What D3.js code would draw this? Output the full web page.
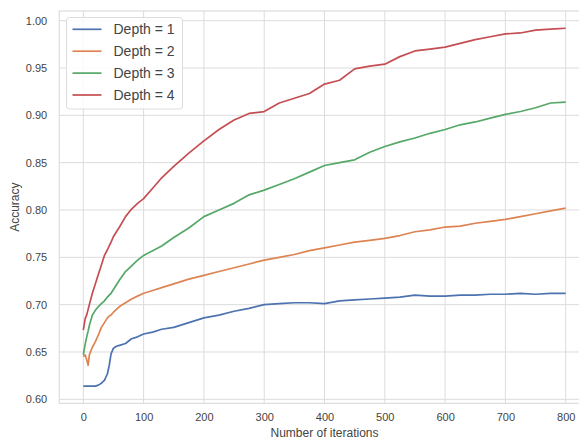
<!DOCTYPE html>
<html>
<head>
<meta charset="utf-8">
<script src="https://cdn.jsdelivr.net/npm/d3@7"></script>
<style>
  body { margin: 0; background: #fff; }
  svg { display: block; font-family: "Liberation Sans", Arial, sans-serif; }
</style>
</head>
<body>
<svg id="chart" width="579" height="439"></svg>
<script>
'use strict'

const iterations = [0, 3, 6, 8, 10, 15, 20, 25, 30, 35, 40, 43, 46, 50, 55, 60, 70, 80, 90, 100, 115, 130, 150, 175, 200, 225, 250, 275, 300, 325, 350, 375, 400, 425, 450, 475, 500, 525, 550, 575, 600, 625, 650, 675, 700, 725, 750, 775, 800]

const depth1 = [0.614, 0.614, 0.614, 0.614, 0.614, 0.614, 0.614, 0.615, 0.617, 0.620, 0.627, 0.636, 0.648, 0.654, 0.656, 0.657, 0.659, 0.664, 0.666, 0.669, 0.671, 0.674, 0.676, 0.681, 0.686, 0.689, 0.693, 0.696, 0.700, 0.701, 0.702, 0.702, 0.701, 0.704, 0.705, 0.706, 0.707, 0.708, 0.710, 0.709, 0.709, 0.710, 0.710, 0.711, 0.711, 0.712, 0.711, 0.712, 0.712]
const depth2 = [0.645, 0.647, 0.641, 0.636, 0.647, 0.655, 0.661, 0.668, 0.676, 0.681, 0.686, 0.688, 0.689, 0.692, 0.695, 0.698, 0.702, 0.706, 0.709, 0.712, 0.715, 0.718, 0.722, 0.727, 0.731, 0.735, 0.739, 0.743, 0.747, 0.750, 0.753, 0.757, 0.760, 0.763, 0.766, 0.768, 0.770, 0.773, 0.777, 0.779, 0.782, 0.783, 0.786, 0.788, 0.790, 0.793, 0.796, 0.799, 0.802]
const depth3 = [0.647, 0.658, 0.667, 0.672, 0.678, 0.689, 0.694, 0.698, 0.701, 0.704, 0.708, 0.710, 0.712, 0.716, 0.721, 0.726, 0.735, 0.741, 0.747, 0.752, 0.757, 0.762, 0.771, 0.781, 0.793, 0.800, 0.807, 0.816, 0.821, 0.827, 0.833, 0.840, 0.847, 0.850, 0.853, 0.861, 0.867, 0.872, 0.876, 0.881, 0.885, 0.890, 0.893, 0.897, 0.901, 0.904, 0.908, 0.913, 0.914]
const depth4 = [0.673, 0.685, 0.690, 0.695, 0.700, 0.712, 0.722, 0.732, 0.742, 0.752, 0.758, 0.762, 0.766, 0.772, 0.777, 0.782, 0.793, 0.801, 0.807, 0.812, 0.823, 0.834, 0.846, 0.860, 0.873, 0.885, 0.895, 0.902, 0.904, 0.913, 0.918, 0.923, 0.933, 0.937, 0.949, 0.952, 0.954, 0.962, 0.968, 0.970, 0.972, 0.976, 0.980, 0.983, 0.986, 0.987, 0.990, 0.991, 0.992]

const seriesNames = ['Depth = 1', 'Depth = 2', 'Depth = 3', 'Depth = 4']
const seriesValues = [depth1, depth2, depth3, depth4]
const seriesColors = ['#4c72b0', '#dd8452', '#55a868', '#c44e52']

const xTicks = [0, 100, 200, 300, 400, 500, 600, 700, 800]
const yTicks = [0.60, 0.65, 0.70, 0.75, 0.80, 0.85, 0.90, 0.95, 1.00]

let svg = d3.select('#chart')

let x = d3.scaleLinear().domain([-40, 840]).range([59.2, 589.8])
let y = d3.scaleLinear().domain([0.5958, 1.0102]).range([403.3, 11])

let plotLeft = x.range()[0], plotRight = x.range()[1]
let plotTop = y.range()[1], plotBottom = y.range()[0]

// grid
let grid = svg.append('g').attr('stroke', '#dcdcdc').attr('stroke-width', 1)

grid.selectAll('.vgrid').data(xTicks).enter().append('line')
    .attr('x1', d => x(d)).attr('x2', d => x(d))
    .attr('y1', plotTop).attr('y2', plotBottom)

grid.selectAll('.hgrid').data(yTicks).enter().append('line')
    .attr('x1', plotLeft).attr('x2', plotRight)
    .attr('y1', d => y(d)).attr('y2', d => y(d))

// frame
svg.append('rect')
    .attr('x', plotLeft).attr('y', plotTop)
    .attr('width', plotRight - plotLeft).attr('height', plotBottom - plotTop)
    .attr('fill', 'none').attr('stroke', '#d6d6d6').attr('stroke-width', 1)

// axes (labels only, seaborn whitegrid has no tick marks)
let xAxis = svg.append('g')
    .attr('transform', `translate(0, ${plotBottom + 4})`)
    .call(d3.axisBottom(x).tickValues(xTicks).tickSize(0).tickPadding(6))
xAxis.select('.domain').remove()
xAxis.selectAll('text').attr('font-size', '11px').attr('fill', '#444').attr('font-family', '"Liberation Sans", Arial, sans-serif')

let yAxis = svg.append('g')
    .attr('transform', `translate(${plotLeft - 4}, 0)`)
    .call(d3.axisLeft(y).tickValues(yTicks).tickFormat(d3.format('.2f')).tickSize(0).tickPadding(8))
yAxis.select('.domain').remove()
yAxis.selectAll('text').attr('font-size', '11px').attr('fill', '#444').attr('font-family', '"Liberation Sans", Arial, sans-serif')

// axis titles
svg.append('text')
    .attr('x', (83.3 + 565.7) / 2).attr('y', 437)
    .attr('text-anchor', 'middle').attr('font-size', '12px').attr('fill', '#444')
    .text('Number of iterations')

svg.append('text')
    .attr('transform', `translate(19, ${(plotTop + plotBottom) / 2}) rotate(-90)`)
    .attr('text-anchor', 'middle').attr('font-size', '12px').attr('fill', '#444')
    .text('Accuracy')

// lines
let line = d3.line().x(d => x(d[0])).y(d => y(d[1]))

svg.append('g').selectAll('path')
    .data(seriesValues)
    .enter()
    .append('path')
    .attr('d', vals => line(iterations.map((it, i) => [it, vals[i]])))
    .attr('fill', 'none')
    .attr('stroke', (d, i) => seriesColors[i])
    .attr('stroke-width', 1.7)
    .attr('stroke-linejoin', 'round')

// legend
let legend = svg.append('g').attr('transform', 'translate(66.5, 17.5)')

legend.append('rect')
    .attr('width', 116).attr('height', 91.5)
    .attr('rx', 3).attr('ry', 3)
    .attr('fill', '#fff').attr('fill-opacity', 0.85)
    .attr('stroke', '#dcdcdc').attr('stroke-width', 1)

let item = legend.selectAll('.item')
    .data(seriesNames)
    .enter()
    .append('g')
    .attr('transform', (d, i) => `translate(0, ${11.8 + i * 21.9})`)

item.append('line')
    .attr('x1', 6).attr('x2', 35)
    .attr('stroke', (d, i) => seriesColors[i])
    .attr('stroke-width', 1.7)

item.append('text')
    .attr('x', 47).attr('dy', '0.35em')
    .attr('font-size', '14px').attr('fill', '#444')
    .text(d => d)
</script>
</body>
</html>
